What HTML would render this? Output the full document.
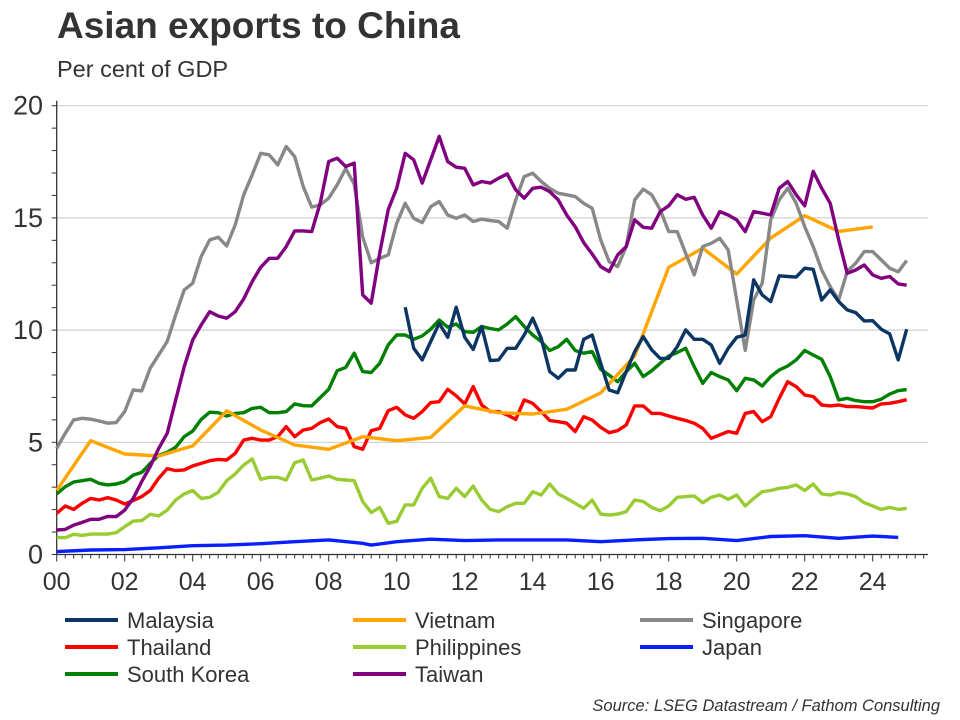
<!DOCTYPE html>
<html><head><meta charset="utf-8"><style>
body{margin:0;background:#fff;}
svg{display:block;font-family:"Liberation Sans",Arial,sans-serif;}
</style></head><body>
<svg id="chart" width="960" height="720" viewBox="0 0 960 720">
<text x="57" y="38" font-size="37" font-weight="bold" fill="#333">Asian exports to China</text>
<text x="57" y="77" font-size="23.5" fill="#333">Per cent of GDP</text>
<g id="grid"></g>
<g id="axes"></g>
<g id="series"></g>
<g id="legend"></g>
<text x="940" y="711" font-size="16.5" font-style="italic" fill="#333" text-anchor="end">Source: LSEG Datastream / Fathom Consulting</text>
</svg>
<script>
const yTicks=[0,5,10,15,20];
const xTickLabels=["00","02","04","06","08","10","12","14","16","18","20","22","24"];
const seriesNames=["Malaysia","Vietnam","Singapore","Thailand","Philippines","Japan","South Korea","Taiwan"];
const malaysiaStart=10.25;
const malaysia=[11.02,9.19,8.67,9.49,10.3,9.68,11.02,9.68,9.14,10.16,8.64,8.67,9.19,9.19,9.78,10.53,9.64,8.15,7.85,8.22,8.22,9.59,9.78,8.52,7.33,7.21,8.15,9.04,9.71,9.12,8.74,8.74,9.26,10.01,9.59,9.59,9.34,8.52,9.19,9.68,9.78,12.24,11.57,11.27,12.42,12.39,12.36,12.76,12.71,11.34,11.79,11.27,10.9,10.78,10.41,10.42,10.04,9.83,8.67,10.04];
const vietnamYears=[0,1,2,3,4,5,6,7,8,9,10,11,12,13,14,15,16,17,18,19,20,21,22,23,24];
const vietnam=[2.85,5.07,4.48,4.39,4.84,6.4,5.55,4.88,4.69,5.25,5.07,5.22,6.62,6.32,6.26,6.47,7.2,8.85,12.8,13.65,12.5,14.1,15.1,14.4,14.6];
const singapore=[4.73,5.4,6.0,6.07,6.03,5.95,5.85,5.88,6.37,7.33,7.29,8.3,8.9,9.49,10.68,11.79,12.09,13.28,14.02,14.14,13.75,14.69,16.03,16.92,17.88,17.81,17.36,18.18,17.73,16.4,15.48,15.58,15.88,16.47,17.2,16.5,14.15,13.0,13.2,13.35,14.76,15.65,14.98,14.79,15.5,15.73,15.13,14.98,15.13,14.84,14.94,14.88,14.84,14.54,15.8,16.84,16.99,16.62,16.32,16.1,16.03,15.95,15.65,15.43,14.02,13.05,12.83,13.72,15.8,16.28,16.03,15.36,14.39,14.39,13.42,12.46,13.72,13.87,14.09,13.57,11.34,9.1,11.34,12.09,14.91,15.8,16.32,15.65,14.61,13.72,12.68,11.94,11.34,12.61,12.98,13.5,13.5,13.13,12.76,12.6,13.1];
const thailand=[1.83,2.16,2.01,2.28,2.5,2.43,2.53,2.43,2.25,2.4,2.58,2.85,3.4,3.83,3.74,3.77,3.95,4.06,4.18,4.24,4.21,4.51,5.1,5.18,5.1,5.1,5.25,5.7,5.25,5.55,5.62,5.88,6.04,5.7,5.62,4.81,4.69,5.52,5.62,6.41,6.56,6.22,6.07,6.37,6.77,6.81,7.36,7.07,6.71,7.48,6.66,6.37,6.37,6.22,6.02,6.89,6.74,6.37,5.97,5.92,5.85,5.48,6.14,5.99,5.67,5.43,5.52,5.77,6.62,6.62,6.29,6.29,6.17,6.07,5.97,5.85,5.62,5.18,5.33,5.48,5.4,6.29,6.37,5.92,6.14,6.96,7.7,7.48,7.11,7.04,6.66,6.62,6.66,6.59,6.59,6.56,6.53,6.71,6.74,6.81,6.9];
const philippines=[0.76,0.75,0.9,0.85,0.91,0.91,0.91,0.97,1.24,1.49,1.51,1.79,1.72,1.98,2.43,2.7,2.85,2.5,2.55,2.77,3.29,3.59,3.99,4.26,3.35,3.44,3.44,3.32,4.09,4.21,3.32,3.4,3.5,3.35,3.32,3.29,2.36,1.87,2.1,1.39,1.48,2.21,2.21,2.95,3.4,2.58,2.5,2.95,2.58,3.05,2.43,2.01,1.91,2.13,2.28,2.28,2.8,2.65,3.14,2.7,2.5,2.28,2.06,2.43,1.8,1.76,1.8,1.91,2.43,2.36,2.1,1.95,2.16,2.55,2.58,2.61,2.31,2.55,2.65,2.46,2.65,2.16,2.5,2.8,2.85,2.95,2.99,3.1,2.85,3.14,2.7,2.65,2.76,2.7,2.58,2.31,2.16,2.01,2.1,2.01,2.06];
const japanYears=[0,1,2,3,4,5,6,7,8,9,9.25,10,11,12,13,14,15,16,17,18,19,20,21,22,23,24,24.75];
const japan=[0.13,0.2,0.22,0.3,0.39,0.42,0.48,0.57,0.65,0.5,0.42,0.57,0.68,0.62,0.65,0.65,0.65,0.57,0.65,0.71,0.72,0.62,0.8,0.84,0.72,0.82,0.76];
const southKorea=[2.7,3.02,3.23,3.29,3.35,3.17,3.1,3.14,3.25,3.54,3.66,4.06,4.42,4.55,4.78,5.25,5.5,6.02,6.34,6.32,6.17,6.29,6.32,6.51,6.56,6.32,6.32,6.37,6.71,6.63,6.62,6.99,7.36,8.19,8.34,8.97,8.15,8.11,8.52,9.34,9.78,9.78,9.59,9.74,10.04,10.45,10.13,10.27,9.93,9.9,10.16,10.07,10.01,10.27,10.6,10.16,9.78,9.49,9.09,9.26,9.59,9.09,8.97,9.04,8.25,7.99,7.7,8.15,8.52,7.93,8.19,8.52,8.85,9.0,9.19,8.37,7.63,8.11,7.93,7.78,7.3,7.85,7.78,7.51,7.93,8.22,8.4,8.67,9.09,8.89,8.7,7.93,6.89,6.96,6.86,6.81,6.81,6.92,7.15,7.3,7.35];
const taiwan=[1.09,1.12,1.31,1.43,1.57,1.57,1.7,1.69,1.98,2.5,3.25,3.92,4.73,5.4,6.89,8.37,9.56,10.23,10.82,10.63,10.53,10.82,11.39,12.16,12.8,13.2,13.2,13.72,14.42,14.42,14.39,15.65,17.51,17.66,17.29,17.44,11.57,11.2,13.43,15.36,16.32,17.88,17.59,16.55,17.59,18.63,17.51,17.26,17.21,16.47,16.62,16.55,16.77,16.96,16.25,15.88,16.32,16.37,16.17,15.8,15.13,14.61,13.9,13.39,12.83,12.61,13.35,13.72,14.91,14.58,14.54,15.28,15.54,16.03,15.83,15.92,15.13,14.54,15.28,15.13,14.91,14.39,15.28,15.21,15.13,16.32,16.62,16.03,15.54,17.07,16.32,15.65,14.02,12.53,12.68,12.9,12.46,12.31,12.39,12.06,12.0];

const X0=56.7,XPY=34,Y0=554.5,YPU=22.44,XR=928;
const xs=y=>X0+XPY*y, ys=v=>Y0-YPU*v;
const NS="http://www.w3.org/2000/svg";
function mk(tag,attrs,parent){const e=document.createElementNS(NS,tag);for(const k in attrs)e.setAttribute(k,attrs[k]);parent.appendChild(e);return e;}
const grid=document.getElementById('grid'),axes=document.getElementById('axes'),ser=document.getElementById('series'),leg=document.getElementById('legend');
yTicks.forEach(v=>{
  if(v>0){const g=mk('line',{x1:X0,x2:XR,y1:ys(v),y2:ys(v),stroke:'#d0d0d0','stroke-width':1.2},grid);
  
  }
  const t=mk('text',{x:43,y:ys(v)+9,'font-size':27,'text-anchor':'end',fill:'#333'},axes);t.textContent=v;
  
  
});
for(let v=0;v<=20;v++){mk('line',{x1:X0-5,x2:X0,y1:ys(v),y2:ys(v),stroke:'#333','stroke-width':1},axes);}
const ya=mk('line',{x1:X0,x2:X0,y1:ys(20)-5,y2:Y0,stroke:'#333','stroke-width':1.3},axes);


const xa=mk('line',{x1:X0,x2:XR,y1:Y0,y2:Y0,stroke:'#333','stroke-width':1.3},axes);


for(let q=0;q<=25*4+2;q++){const yr=q/4;if(xs(yr)>XR)break;const maj=q%8===0;
  mk('line',{x1:xs(yr),x2:xs(yr),y1:Y0,y2:Y0+(maj?7:4),stroke:'#333','stroke-width':1},axes);}
xTickLabels.forEach((l,i)=>{const t=mk('text',{x:xs(i*2),y:590,'font-size':25,'text-anchor':'middle',fill:'#333'},axes);t.textContent=l;
  
  });
const colors={"Malaysia":"#0b3563","Vietnam":"#ffa500","Singapore":"#888888","Thailand":"#ff0000","Philippines":"#99cc33","Japan":"#0a1fff","South Korea":"#008000","Taiwan":"#800080"};
function q(arr,start){return arr.map((v,i)=>[start+i/4,v]);}
const data={
 "Japan":japanYears.map((y,i)=>[y,japan[i]]),
 "Philippines":q(philippines,0),
 "Thailand":q(thailand,0),
 "South Korea":q(southKorea,0),
 "Vietnam":vietnamYears.map((y,i)=>[y,vietnam[i]]),
 "Singapore":q(singapore,0),
 "Malaysia":q(malaysia,malaysiaStart),
 "Taiwan":q(taiwan,0)
};
Object.keys(data).forEach(n=>{
  const d=data[n].map(p=>xs(p[0]).toFixed(1)+','+ys(p[1]).toFixed(1)).join(' ');
  const p=mk('polyline',{points:d,fill:'none',stroke:colors[n],'stroke-width':3.4,'stroke-linejoin':'round'},ser);
  
  
});
const colX=[65,353,640],rowY=[620,647,674];
seriesNames.forEach((n,i)=>{
  const cx=colX[i%3],cy=rowY[Math.floor(i/3)];
  const g=mk('g',{},leg);
  
  
  mk('line',{x1:cx,x2:cx+53,y1:cy,y2:cy,stroke:colors[n],'stroke-width':4},g);
  const t=mk('text',{x:cx+62,y:cy+8,'font-size':22,fill:'#333'},g);t.textContent=n;
});
</script>
</body></html>
